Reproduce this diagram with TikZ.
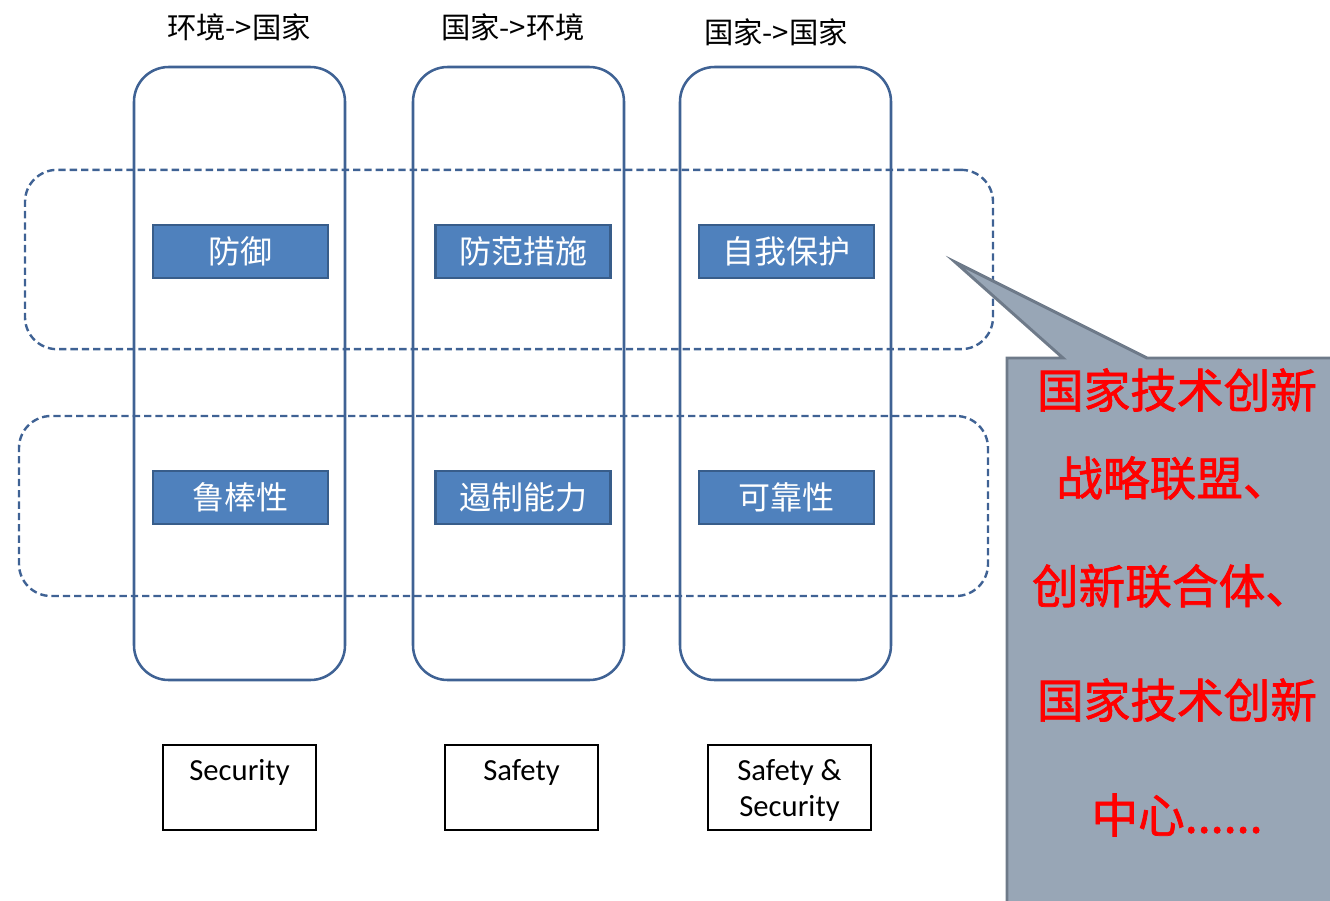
\documentclass[tikz,border=0pt]{standalone}
\usepackage{fontspec}
\setmainfont{Carlito}
\newfontfamily\cjk{Noto Sans CJK SC}
\newfontfamily\cjkb{Noto Sans CJK SC}[BoldFont=*, FakeBold=1.5]
\definecolor{colblue}{HTML}{3F6294}
\definecolor{boxfill}{HTML}{4F81BD}
\definecolor{boxline}{HTML}{385D8A}
\definecolor{callfill}{HTML}{98A6B6}
\definecolor{callline}{HTML}{6E7A89}
\begin{document}
\begin{tikzpicture}[x=0.75pt,y=-0.75pt,
  colbox/.style={draw=colblue,line width=1.9pt,rounded corners=26pt,minimum width=158.25pt,minimum height=459.75pt,inner sep=0pt},
  rowbox/.style={draw=colblue,line width=1.8pt,dash pattern=on 5.5pt off 3pt,rounded corners=24pt,minimum width=726pt,minimum height=134.5pt,inner sep=0pt},
  bluebox/.style={draw=boxline,fill=boxfill,line width=1.8pt,minimum width=131.25pt,minimum height=39.75pt,inner sep=0pt,text=white,font=\cjk\fontsize{24}{28}\selectfont},
  toplab/.style={font=\cjk\fontsize{22}{26}\selectfont,inner sep=0pt},
  botbox/.style={draw=black,line width=0.9pt,minimum height=63.75pt,inner sep=0pt},
  botlab/.style={anchor=north,align=center,font=\fontsize{23}{27}\selectfont,inner sep=0pt},
  redtxt/.style={text=red,font=\cjkb\fontsize{35}{40}\selectfont,inner sep=0pt}]
\useasboundingbox (0,0) rectangle (1330,900);
% top labels
\node[toplab] (t1) at (239,27) {环境->国家};
\node[toplab] (t2) at (513,27) {国家->环境};
\node[toplab] (t3) at (776,32) {国家->国家};
% columns
\node[colbox] (c1) at (239.5,373.5) {};
\node[colbox] (c2) at (518.5,373.5) {};
\node[colbox] (c3) at (785.5,373.5) {};
% dashed rows
\node[rowbox] (r1) at (509,259.5) {};
\node[rowbox,minimum width=726.75pt,minimum height=135pt] (r2) at (503.5,506) {};
% blue boxes
\node[bluebox] (b11) at (240.5,251.5) {防御};
\node[bluebox] (b12) at (523,251.5) {防范措施};
\node[bluebox] (b13) at (786.5,251.5) {自我保护};
\node[bluebox] (b21) at (240.5,497.5) {鲁棒性};
\node[bluebox] (b22) at (523,497.5) {遏制能力};
\node[bluebox] (b23) at (786.5,497.5) {可靠性};
% bottom boxes
\node[botbox,minimum width=114.75pt] (s1) at (239.5,787.5) {};
\node[botbox,minimum width=114.75pt] (s2) at (521.5,787.5) {};
\node[botbox,minimum width=122.25pt] (s3) at (789.5,787.5) {};
\node[botlab] (l1) at (239.5,759) {Security};
\node[botlab] (l2) at (521.5,759) {Safety};
\node[botlab] (l3) at (789.5,759) {Safety \&\\Security};
% callout
\coordinate (tip) at (955,262);
\draw[fill=callfill,draw=callline,line width=2.2pt,line join=miter]
  (1007,358) -- (1063,358) -- (tip) -- (1147,358) -- (1345,358) -- (1345,915) -- (1007,915) -- cycle;
\node[redtxt] (x1) at (1177,390) {国家技术创新};
\node[redtxt] (x2) at (1173,478) {战略联盟、};
\node[redtxt] (x3) at (1172,586) {创新联合体、};
\node[redtxt] (x4) at (1177,700) {国家技术创新};
\node[redtxt] (x5) at (1177,815) {中心......};
\end{tikzpicture}
\end{document}
